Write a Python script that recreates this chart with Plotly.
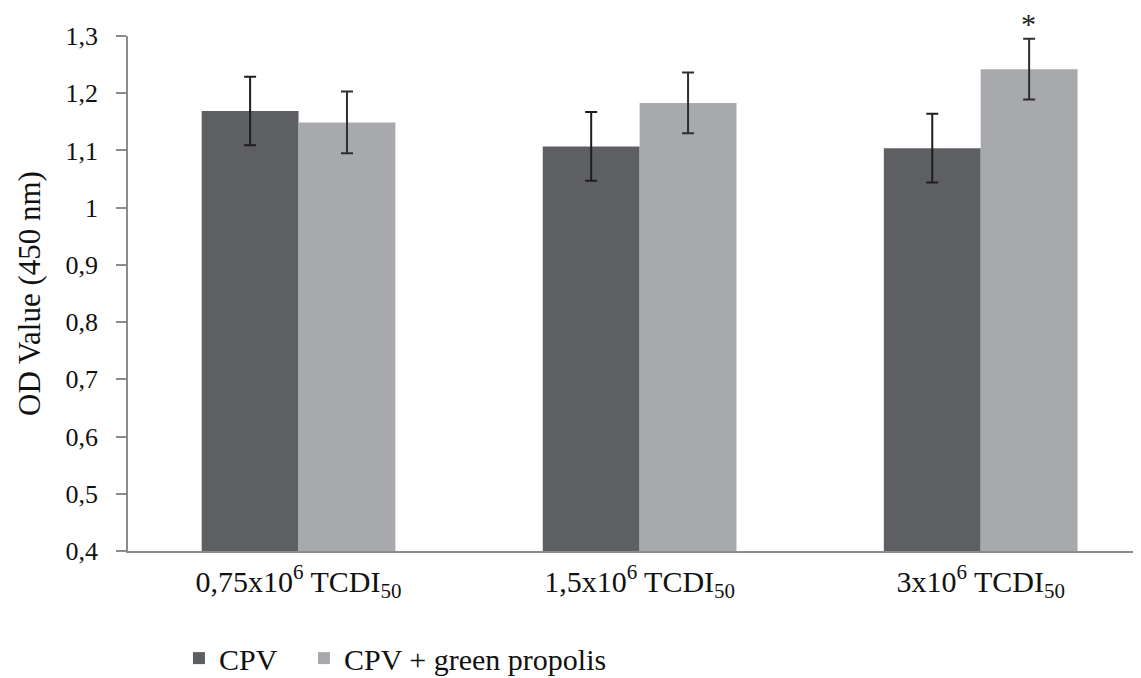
import plotly.graph_objects as go

categories = ["0,75x10<sup>6</sup> TCDI<sub>50</sub>",
              "1,5x10<sup>6</sup> TCDI<sub>50</sub>",
              "3x10<sup>6</sup> TCDI<sub>50</sub>"]
cpv = [1.169, 1.107, 1.104]
cpv_err = [0.060, 0.060, 0.060]
propolis = [1.149, 1.183, 1.242]
propolis_err = [0.054, 0.053, 0.053]
y_ticks = [0.4, 0.5, 0.6, 0.7, 0.8, 0.9, 1.0, 1.1, 1.2, 1.3]
y_ticklabels = ["0,4", "0,5", "0,6", "0,7", "0,8", "0,9", "1", "1,1", "1,2", "1,3"]

FONT = "Liberation Serif, Times New Roman, serif"

fig = go.Figure()
fig.add_trace(go.Bar(
    x=[0, 1, 2], y=cpv, name="CPV", legendwidth=80,
    marker=dict(color="#5e5f63", line=dict(width=0)),
    error_y=dict(type="data", array=cpv_err, color="#1e1e1e", thickness=2, width=6),
))
fig.add_trace(go.Bar(
    x=[0, 1, 2], y=propolis, name="CPV + green propolis",
    marker=dict(color="#a7a9ac", line=dict(width=0)),
    error_y=dict(type="data", array=propolis_err, color="#2e2e2e", thickness=2, width=6),
))

fig.add_annotation(
    x=2, y=propolis[2] + propolis_err[2], xref="x", yref="y",
    text="*", showarrow=False, xshift=48, yshift=-3, yanchor="bottom",
    font=dict(family=FONT, size=30, color="#222"),
)

# page body has an 8px margin, so the figure is sized/positioned to compensate
fig.update_layout(
    width=1133, height=670,
    margin=dict(l=120, r=0, t=28, b=127, autoexpand=False),
    paper_bgcolor="white", plot_bgcolor="white",
    barmode="group", bargap=0.432, bargroupgap=0,
    font=dict(family=FONT, color="#111"),
    showlegend=True,
    legend=dict(orientation="h", x=0.0503, xanchor="left", y=-0.208, yanchor="middle",
                font=dict(family=FONT, size=30, color="#111"),
                bgcolor="rgba(0,0,0,0)", itemwidth=30, traceorder="normal"),
    xaxis=dict(
        range=[-0.5, 2.47], tickmode="array", tickvals=[0, 1, 2], ticktext=categories,
        showline=True, linecolor="#8c8c8c", linewidth=1.5, ticks="", showgrid=False,
        zeroline=False, tickfont=dict(family=FONT, size=30, color="#111"),
        ticklabelstandoff=3, automargin=False,
    ),
    yaxis=dict(
        range=[0.4, 1.3], tickmode="array", tickvals=y_ticks, ticktext=y_ticklabels,
        showline=True, linecolor="#8c8c8c", linewidth=1.5, ticks="outside", ticklen=10,
        tickcolor="#8c8c8c", tickwidth=1.5, showgrid=False, zeroline=False,
        tickfont=dict(family=FONT, size=26, color="#111"),
        ticklabelstandoff=13, automargin=False,
        title=dict(text="OD Value (450 nm)", font=dict(family=FONT, size=31, color="#111"),
                   standoff=16),
    ),
)

fig.write_html("out.html")
